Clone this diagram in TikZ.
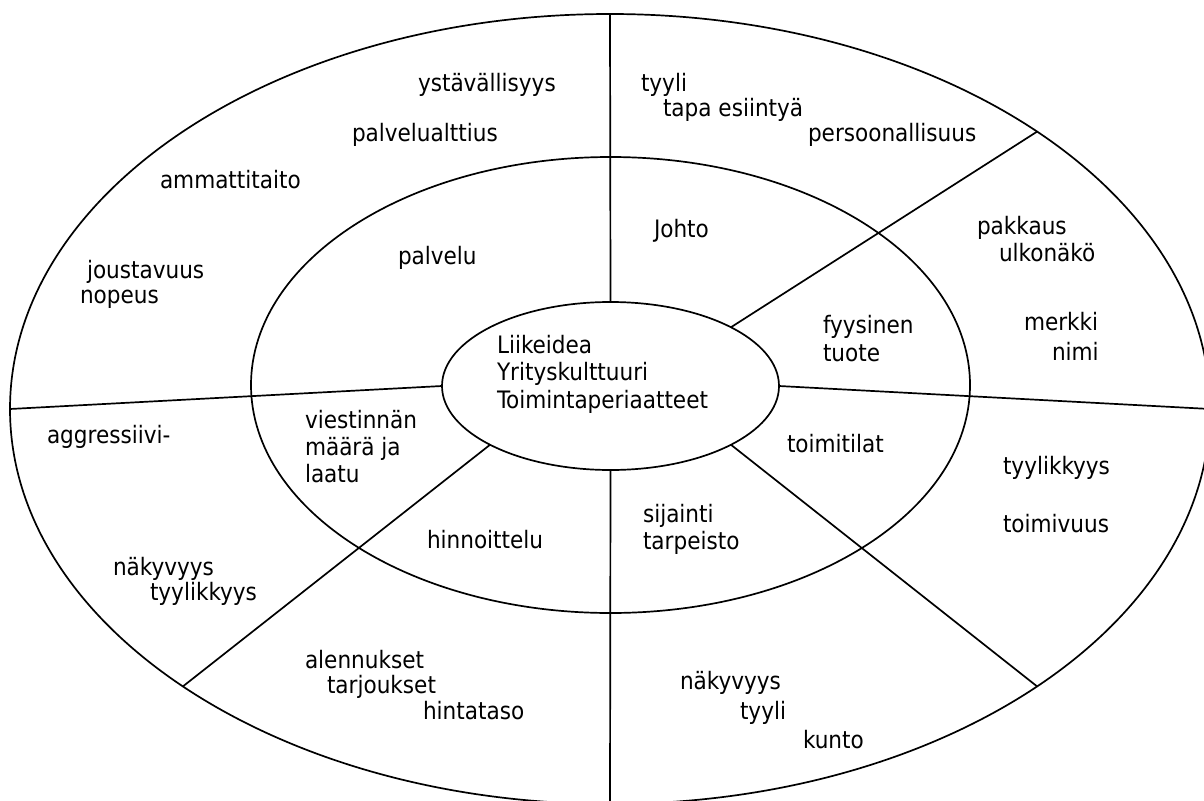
\documentclass[tikz,border=0pt]{standalone}
\usepackage{fontspec}
\setmainfont{DejaVu Sans Condensed}
\usetikzlibrary{shapes.geometric}
\begin{document}
\begin{tikzpicture}[x=1pt,y=-1pt,
  ring/.style={draw=black, line width=1.7pt, shape=ellipse, inner sep=0pt, outer sep=0pt},
  sep/.style={draw=black, line width=1.7pt},
  lbl/.style={anchor=base west, inner sep=0pt, outer sep=0pt, font=\fontsize{24}{27.5}\selectfont}]
\useasboundingbox (0,0) rectangle (1204,800);
\clip (0,0) rectangle (1204,800);
\fill[white] (0,0) rectangle (1204,800);
% rings
\node[ring, minimum width=1200pt, minimum height=790pt] (outer) at (610,409) {};
\node[ring, minimum width=719pt, minimum height=456pt] (middle) at (610.5,385) {};
\node[ring, minimum width=337pt, minimum height=168pt] (core) at (610.5,386) {};
% separators
\draw[sep] (core.90) -- (outer.90);
\draw[sep] (core.270) -- (outer.270);
\draw[sep] (core.0) -- (outer.0);
\draw[sep] (core.180) -- (outer.180);
\draw[sep] (core.26.3) -- (outer.33.3);
\draw[sep] (core.206.3) -- (outer.213.3);
\draw[sep] (core.-26.3) -- (outer.-33.3);
% centre
\node[lbl] (c1) at (497,353) {Liikeidea};
\node[lbl] (c2) at (497,380) {Yrityskulttuuri};
\node[lbl] (c3) at (497,408) {Toimintaperiaatteet};
% middle ring
\node[lbl] (m1) at (654,237) {Johto};
\node[lbl] (m2) at (398,264) {palvelu};
\node[lbl] (m3) at (823,333) {fyysinen};
\node[lbl] (m4) at (823,361) {tuote};
\node[lbl] (m5) at (305,428) {viestinnän};
\node[lbl] (m6) at (305,455) {määrä ja};
\node[lbl] (m7) at (305,482) {laatu};
\node[lbl] (m8) at (787,452) {toimitilat};
\node[lbl] (m9) at (427,548) {hinnoittelu};
\node[lbl] (m10) at (643,522) {sijainti};
\node[lbl] (m11) at (643,549) {tarpeisto};
% outer ring
\node[lbl] (o1) at (418,92) {ystävällisyys};
\node[lbl] (o2) at (352,141) {palvelualttius};
\node[lbl] (o3) at (160,188) {ammattitaito};
\node[lbl] (o4) at (87,278) {joustavuus};
\node[lbl] (o5) at (80,303) {nopeus};
\node[lbl] (o6) at (641,92) {tyyli};
\node[lbl] (o7) at (663,116) {tapa esiintyä};
\node[lbl] (o8) at (808,141) {persoonallisuus};
\node[lbl] (o9) at (977,234) {pakkaus};
\node[lbl] (o10) at (999,261) {ulkonäkö};
\node[lbl] (o11) at (1024,330) {merkki};
\node[lbl] (o12) at (1052,360) {nimi};
\node[lbl] (o13) at (1003,474) {tyylikkyys};
\node[lbl] (o14) at (1003,532) {toimivuus};
\node[lbl] (o15) at (47,443) {aggressiivi-};
\node[lbl] (o16) at (113,575) {näkyvyys};
\node[lbl] (o17) at (150,600) {tyylikkyys};
\node[lbl] (o18) at (305,668) {alennukset};
\node[lbl] (o19) at (327,693) {tarjoukset};
\node[lbl] (o20) at (423,719) {hintataso};
\node[lbl] (o21) at (680,689) {näkyvyys};
\node[lbl] (o22) at (740,719) {tyyli};
\node[lbl] (o23) at (803,748) {kunto};
\end{tikzpicture}
\end{document}
